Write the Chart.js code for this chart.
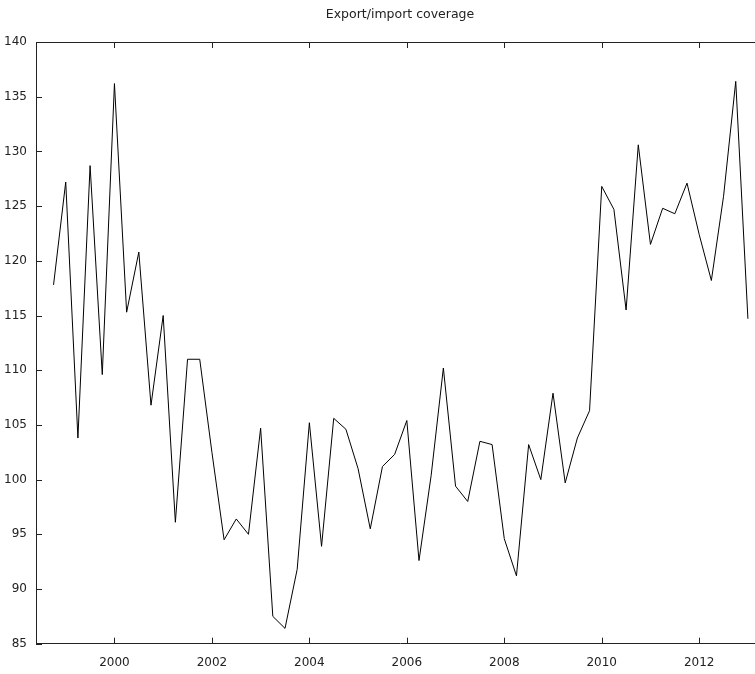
<!DOCTYPE html>
<html>
<head>
<meta charset="utf-8">
<script src="https://cdn.jsdelivr.net/npm/chart.js@4/dist/chart.umd.min.js"></script>
<style>
  html, body { margin: 0; padding: 0; background: #fff; overflow: hidden; }
  #wrap { width: 755px; height: 674px; overflow: hidden; }
</style>
</head>
<body>
<div id="wrap"><canvas id="chart" width="800" height="674"></canvas></div>
<script>
// quarterly periods, year:quarter
var periods = [
  '1998:4',
  '1999:1', '1999:2', '1999:3', '1999:4',
  '2000:1', '2000:2', '2000:3', '2000:4',
  '2001:1', '2001:2', '2001:3', '2001:4',
  '2002:1', '2002:2', '2002:3', '2002:4',
  '2003:1', '2003:2', '2003:3', '2003:4',
  '2004:1', '2004:2', '2004:3', '2004:4',
  '2005:1', '2005:2', '2005:3', '2005:4',
  '2006:1', '2006:2', '2006:3', '2006:4',
  '2007:1', '2007:2', '2007:3', '2007:4',
  '2008:1', '2008:2', '2008:3', '2008:4',
  '2009:1', '2009:2', '2009:3', '2009:4',
  '2010:1', '2010:2', '2010:3', '2010:4',
  '2011:1', '2011:2', '2011:3', '2011:4',
  '2012:1', '2012:2', '2012:3', '2012:4',
  '2013:1'
];

// export/import coverage
var coverage = [
  117.8,
  127.2, 103.8, 128.7, 109.6,
  136.2, 115.3, 120.8, 106.8,
  115.0, 96.1, 111.0, 111.0,
  102.5, 94.5, 96.4, 95.0,
  104.7, 87.5, 86.4, 91.8,
  105.2, 93.9, 105.6, 104.6,
  101.0, 95.5, 101.2, 102.3,
  105.4, 92.6, 100.4, 110.2,
  99.4, 98.0, 103.5, 103.2,
  94.6, 91.2, 103.2, 100.0,
  107.9, 99.7, 103.8, 106.3,
  126.8, 124.7, 115.5, 130.6,
  121.5, 124.8, 124.3, 127.1,
  122.4, 118.2, 125.9, 136.4,
  114.7
];

var xTicks = [2000, 2002, 2004, 2006, 2008, 2010, 2012];
var yTicks = [85, 90, 95, 100, 105, 110, 115, 120, 125, 130, 135, 140];
var titleText = 'Export/import coverage';

var axisColor = '#222';
var textColor = '#222';
var fontFamily = '"DejaVu Sans", Verdana, sans-serif';

// turn '1998:4' into 1998.75
function periodToYear(p) {
    var parts = p.split(':');
    return parseInt(parts[0]) + (parseInt(parts[1]) - 1) / 4;
}

var points = [];
for (var i = 0; i < periods.length; i++) {
    points.push({ x: periodToYear(periods[i]), y: coverage[i] });
}

// title centred over the plot box, top border and inward tick marks (gnuplot style)
var frameTicks = {
    id: 'frameTicks',
    afterDraw: function(chart) {
        var ctx = chart.ctx;
        var a = chart.chartArea;
        var sx = chart.scales.x, sy = chart.scales.y;
        ctx.save();
        ctx.fillStyle = textColor;
        ctx.font = '12.5px ' + fontFamily;
        ctx.textAlign = 'center';
        ctx.textBaseline = 'middle';
        ctx.fillText(titleText, (a.left + a.right) / 2, 15);

        ctx.strokeStyle = axisColor;
        ctx.lineWidth = 1;
        ctx.beginPath();
        ctx.moveTo(a.left, Math.round(a.top) + 0.5);
        ctx.lineTo(a.right, Math.round(a.top) + 0.5);
        sx.ticks.forEach(function(t) {
            var px = Math.round(sx.getPixelForValue(t.value)) + 0.5;
            ctx.moveTo(px, a.bottom);
            ctx.lineTo(px, a.bottom - 6);
            ctx.moveTo(px, a.top);
            ctx.lineTo(px, a.top + 6);
        });
        sy.ticks.forEach(function(t) {
            var py = Math.round(sy.getPixelForValue(t.value)) + 0.5;
            ctx.moveTo(a.left, py);
            ctx.lineTo(a.left + 6, py);
        });
        ctx.stroke();
        ctx.restore();
    }
};

var chart = new Chart(document.getElementById('chart').getContext('2d'), {
    type: 'line',
    data: {
        datasets: [{
            label: 'coverage',
            data: points,
            borderColor: '#000',
            borderWidth: 1,
            pointRadius: 0,
            tension: 0,
            fill: false
        }]
    },
    options: {
        responsive: false,
        animation: false,
        layout: { padding: { left: 0, right: 36, top: 42, bottom: 0 } },
        plugins: {
            legend: { display: false },
            tooltip: { enabled: false },
            title: { display: false }
        },
        scales: {
            x: {
                type: 'linear',
                min: 1998.39,
                max: 2013.33,
                afterBuildTicks: function(scale) {
                    scale.ticks = xTicks.map(function(v) { return { value: v }; });
                },
                afterFit: function(scale) { scale.height = 30.3; },
                grid: { display: false, drawTicks: false },
                border: { display: true, color: axisColor, width: 1 },
                ticks: {
                    color: textColor,
                    padding: 12,
                    maxRotation: 0,
                    font: { family: fontFamily, size: 12 },
                    callback: function(v) { return String(v); }
                }
            },
            y: {
                min: 85,
                max: 140,
                afterBuildTicks: function(scale) {
                    scale.ticks = yTicks.map(function(v) { return { value: v }; });
                },
                afterFit: function(scale) { scale.width = 36; },
                grid: { display: false, drawTicks: false },
                border: { display: true, color: axisColor, width: 1 },
                ticks: {
                    color: textColor,
                    padding: 9,
                    font: { family: fontFamily, size: 12 }
                }
            }
        }
    },
    plugins: [frameTicks]
});
</script>
</body>
</html>
